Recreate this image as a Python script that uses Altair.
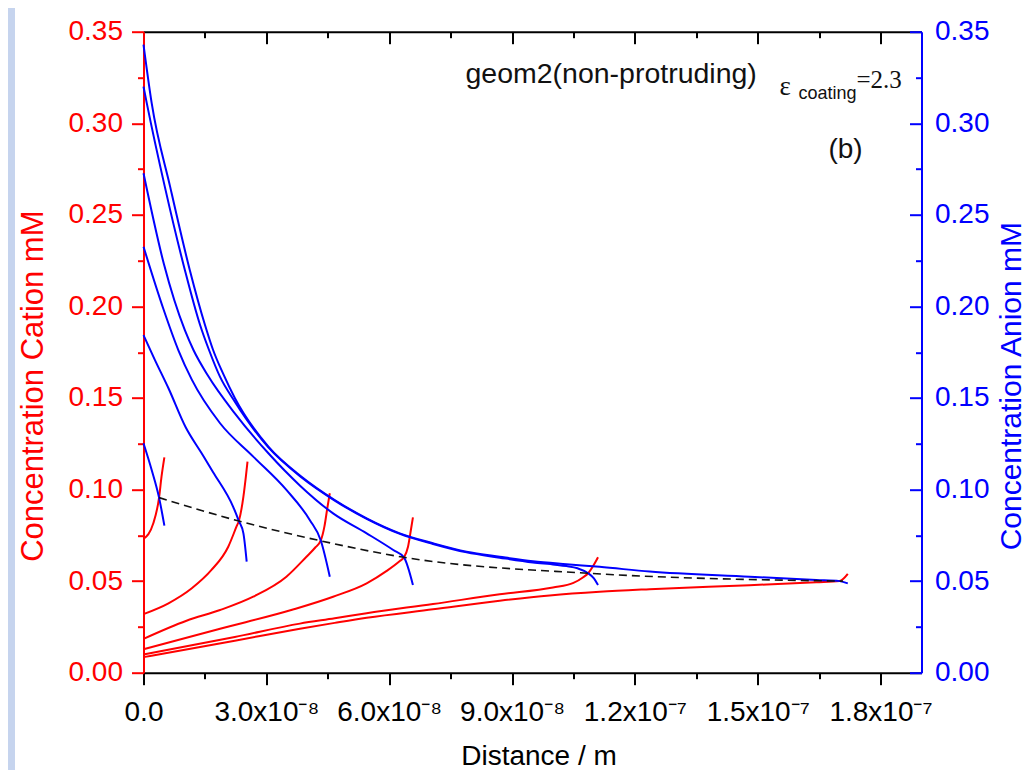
import altair as alt
import pandas as pd

# Distance in units of 1e-8 m, concentrations in mM
CAT1_X = [0.0, 0.24, 0.38, 0.44, 0.51]
CAT1_Y = [0.0730, 0.0816, 0.0956, 0.1070, 0.1176]
AN1_X = [0.0, 0.20, 0.38, 0.51]
AN1_Y = [0.1253, 0.1107, 0.0956, 0.0803]

CAT2_X = [0.0, 0.61, 1.18, 1.66, 2.07, 2.27, 2.33, 2.44, 2.50, 2.54]
CAT2_Y = [0.0320, 0.0379, 0.0461, 0.0561, 0.0688, 0.0797, 0.0830, 0.0961, 0.1070, 0.1152]
AN2_X = [0.0, 0.28, 0.61, 1.03, 1.42, 1.70, 2.19, 2.33, 2.44, 2.52]
AN2_Y = [0.1843, 0.1707, 0.1553, 0.1340, 0.1198, 0.1095, 0.0906, 0.0828, 0.0761, 0.0606]

CAT3_X = [0.0, 1.05, 1.87, 2.68, 3.49, 3.98, 4.20, 4.33, 4.42, 4.49, 4.55]
CAT3_Y = [0.0185, 0.0284, 0.0342, 0.0415, 0.0524, 0.0633, 0.0685, 0.0722, 0.0800, 0.0900, 0.0980]
AN3_X = [0.0, 0.48, 0.85, 1.18, 1.87, 2.68, 3.49, 4.06, 4.33, 4.55]
AN3_Y = [0.2326, 0.1990, 0.1762, 0.1600, 0.1362, 0.1180, 0.0998, 0.0834, 0.0722, 0.0524]

CAT4_X = [0.0, 1.87, 3.65, 4.63, 5.45, 5.94, 6.26, 6.36, 6.46, 6.53, 6.58]
CAT4_Y = [0.0128, 0.0240, 0.0345, 0.0415, 0.0488, 0.0556, 0.0610, 0.0630, 0.0688, 0.0779, 0.0848]
AN4_X = [0.0, 0.50, 1.01, 1.22, 1.58, 2.23, 3.05, 3.83, 4.63, 5.45, 6.10, 6.36, 6.58]
AN4_Y = [0.2727, 0.2230, 0.1870, 0.1762, 0.1620, 0.1416, 0.1198, 0.1020, 0.0870, 0.0761, 0.0670,
         0.0630, 0.0479]

CAT5_X = [0.0, 2.23, 3.82, 4.67, 5.45, 7.07, 8.70, 10.00, 10.50, 10.73, 10.86, 11.02, 11.10]
CAT5_Y = [0.0100, 0.0195, 0.0268, 0.0297, 0.0325, 0.0375, 0.0428, 0.0465, 0.0490, 0.0520, 0.0543,
          0.0597, 0.0630]
AN5_X = [0.0, 0.08, 0.52, 1.01, 1.38, 1.60, 1.87, 2.23, 3.05, 3.86, 4.67, 5.45, 6.26, 7.07, 7.89,
         8.70, 9.51, 10.05, 10.33, 10.60, 10.86, 11.00, 11.10]
AN5_Y = [0.3200, 0.3110, 0.2654, 0.2199, 0.1900, 0.1762, 0.1615, 0.1480, 0.1230, 0.1066, 0.0940,
         0.0840, 0.0758, 0.0703, 0.0657, 0.0628, 0.0602, 0.0590, 0.0582, 0.0570, 0.0543, 0.0515,
         0.0479]

CAT6_X = [0.0, 2.23, 3.82, 4.67, 5.45, 7.07, 8.70, 9.92, 11.14, 12.36, 14.80, 16.43, 17.00, 17.20]
CAT6_Y = [0.0085, 0.0175, 0.0240, 0.0272, 0.0300, 0.0346, 0.0393, 0.0422, 0.0442, 0.0456, 0.0478,
          0.0494, 0.0501, 0.0540]
AN6_X = [0.0, 0.20, 0.65, 1.13, 1.50, 1.70, 1.95, 2.23, 3.05, 3.86, 4.67, 5.45, 6.26, 7.07, 7.89,
         8.70, 9.51, 10.33, 11.14, 12.36, 14.80, 16.43, 17.00, 17.20]
AN6_Y = [0.3430, 0.3110, 0.2654, 0.2199, 0.1900, 0.1762, 0.1630, 0.1500, 0.1234, 0.1070, 0.0943,
         0.0843, 0.0761, 0.0707, 0.0661, 0.0633, 0.0608, 0.0592, 0.0578, 0.0552, 0.0524, 0.0506,
         0.0500, 0.0488]

DASH_X = [0.38, 2.33, 4.33, 6.36, 10.86, 17.08]
DASH_Y = [0.0956, 0.0828, 0.0720, 0.0630, 0.0543, 0.0500]

X_TICKS = [0, 3, 6, 9, 12, 15, 18]
X_TICK_LABELS = ["0.0", "3.0x10⁻⁸", "6.0x10⁻⁸", "9.0x10⁻⁸", "1.2x10⁻⁷", "1.5x10⁻⁷", "1.8x10⁻⁷"]
X_MINOR = [1.5, 4.5, 7.5, 10.5, 13.5, 16.5]
Y_TICKS = [0.0, 0.05, 0.10, 0.15, 0.20, 0.25, 0.30, 0.35]
Y_MINOR = [0.025, 0.075, 0.125, 0.175, 0.225, 0.275, 0.325]

SERIES = [
    ("cation", 1, CAT1_X, CAT1_Y), ("anion", 1, AN1_X, AN1_Y),
    ("cation", 2, CAT2_X, CAT2_Y), ("anion", 2, AN2_X, AN2_Y),
    ("cation", 3, CAT3_X, CAT3_Y), ("anion", 3, AN3_X, AN3_Y),
    ("cation", 4, CAT4_X, CAT4_Y), ("anion", 4, AN4_X, AN4_Y),
    ("cation", 5, CAT5_X, CAT5_Y), ("anion", 5, AN5_X, AN5_Y),
    ("cation", 6, CAT6_X, CAT6_Y), ("anion", 6, AN6_X, AN6_Y),
]

rows = []
for kind, k, xs_, ys_ in SERIES:
    for i, (xv, yv) in enumerate(zip(xs_, ys_)):
        rows.append({"x": xv, "y": yv, "kind": kind, "series": f"{kind}{k}", "order": i})
lines_df = pd.DataFrame(rows)
dash_df = pd.DataFrame({"x": DASH_X, "y": DASH_Y, "order": list(range(len(DASH_X)))})
one = pd.DataFrame({"a": [0]})

W, H = 778, 641
SANS = "Liberation Sans"
SERIF = "Liberation Serif"
RED = "#ff0000"
BLUE = "#0000ff"

xs = alt.Scale(domain=[0, 19], nice=False, zero=False)
ys = alt.Scale(domain=[0, 0.35], nice=False, zero=False)

label_expr = "[" + ",".join(f"'{s}'" for s in X_TICK_LABELS) + "][round(datum.value/3)]"

common = dict(grid=False, labelFlush=False, labelOverlap=False)

ax_bottom_major = alt.Axis(orient="bottom", values=X_TICKS, tickSize=12, tickWidth=2, tickColor="black",
                           domain=True, domainColor="black", domainWidth=2, labels=True,
                           labelExpr=label_expr, labelFont=SANS, labelFontSize=28, labelColor="black",
                           labelPadding=14, title="Distance / m", titleFont=SANS, titleFontSize=28,
                           titleFontWeight="normal", titleColor="black", titleX=395, titleY=84,
                           titleAlign="center", titleBaseline="middle", **common)
ax_bottom_minor = alt.Axis(orient="bottom", values=X_MINOR, tickSize=6, tickWidth=2, tickColor="black",
                           domain=False, labels=False, title=None, **common)
ax_top_frame = alt.Axis(orient="top", domain=True, domainColor="black", domainWidth=2, ticks=False,
                        tickSize=0, labels=False, title=None, **common)
ax_top_major = alt.Axis(orient="top", values=X_TICKS, offset=-12, tickSize=12, tickWidth=2,
                        tickColor="black", domain=False, labels=False, title=None, **common)
ax_top_minor = alt.Axis(orient="top", values=X_MINOR, offset=-6, tickSize=6, tickWidth=2,
                        tickColor="black", domain=False, labels=False, title=None, **common)

ax_left_major = alt.Axis(orient="left", values=Y_TICKS, tickSize=12, tickWidth=2, tickColor=RED,
                         domain=True, domainColor=RED, domainWidth=2, labels=True, format=".2f",
                         labelFont=SANS, labelFontSize=28, labelColor=RED, labelPadding=9,
                         title="Concentration Cation mM", titleFont=SANS, titleFontSize=31,
                         titleFontWeight="normal", titleColor=RED, titleAngle=270, titleX=-110,
                         titleY=354, titleAlign="center", titleBaseline="middle", **common)
ax_left_minor = alt.Axis(orient="left", values=Y_MINOR, tickSize=6, tickWidth=2, tickColor=RED,
                         domain=False, labels=False, title=None, **common)
ax_right_frame = alt.Axis(orient="right", values=Y_TICKS, ticks=False, tickSize=0, domain=True,
                          domainColor=BLUE, domainWidth=2, labels=True, format=".2f", labelFont=SANS,
                          labelFontSize=28, labelColor=BLUE, labelPadding=13,
                          title="Concentration Anion mM", titleFont=SANS, titleFontSize=30,
                          titleFontWeight="normal", titleColor=BLUE, titleAngle=270, titleX=90,
                          titleY=354, titleAlign="center", titleBaseline="middle", **common)
ax_right_major = alt.Axis(orient="right", values=Y_TICKS, offset=-12, tickSize=12, tickWidth=2,
                          tickColor=BLUE, domain=False, labels=False, title=None, **common)
ax_right_minor = alt.Axis(orient="right", values=Y_MINOR, offset=-6, tickSize=6, tickWidth=2,
                          tickColor=BLUE, domain=False, labels=False, title=None, **common)

lines = alt.Chart(lines_df).mark_line(interpolate="monotone", strokeWidth=2).encode(
    x=alt.X("x:Q", scale=xs, axis=ax_bottom_major),
    y=alt.Y("y:Q", scale=ys, axis=ax_left_major),
    color=alt.Color("kind:N", scale=alt.Scale(domain=["cation", "anion"], range=[RED, BLUE]), legend=None),
    detail="series:N",
    order="order:Q",
)

dashed = alt.Chart(dash_df).mark_line(interpolate="monotone", strokeWidth=1.6, strokeDash=[8, 5],
                                      color="#111111").encode(
    x=alt.X("x:Q", scale=xs, axis=ax_bottom_minor),
    y=alt.Y("y:Q", scale=ys, axis=ax_left_minor),
    order="order:Q",
)


def guide_layer(xa, ya):
    return alt.Chart(dash_df).mark_line(opacity=0).encode(
        x=alt.X("x:Q", scale=xs, axis=xa),
        y=alt.Y("y:Q", scale=ys, axis=ya),
    )


g1 = guide_layer(ax_top_frame, ax_right_frame)
g2 = guide_layer(ax_top_major, ax_right_major)
g3 = guide_layer(ax_top_minor, ax_right_minor)

strip = alt.Chart(one).mark_rect(color="#c6d4ee").encode(
    x=alt.value(-135.5), x2=alt.value(-128.5), y=alt.value(-23.7), y2=alt.value(740)
)

t_geom = alt.Chart(one).mark_text(text="geom2(non-protruding)", font=SANS, fontSize=28.5, align="left",
                                  baseline="alphabetic", color="#111111").encode(
    x=alt.value(322), y=alt.value(51))
t_eps = alt.Chart(one).mark_text(text="ε", font=SERIF, fontSize=27, align="left",
                                 baseline="alphabetic", color="#111111").encode(
    x=alt.value(636), y=alt.value(63))
t_coat = alt.Chart(one).mark_text(text="coating", font=SANS, fontSize=18, align="left",
                                  baseline="alphabetic", color="#111111").encode(
    x=alt.value(655), y=alt.value(67))
t_val = alt.Chart(one).mark_text(text="=2.3", font=SERIF, fontSize=25, align="left",
                                 baseline="alphabetic", color="#111111").encode(
    x=alt.value(713), y=alt.value(56))
t_b = alt.Chart(one).mark_text(text="(b)", font=SANS, fontSize=28, align="center",
                               baseline="middle", color="#111111").encode(
    x=alt.value(702), y=alt.value(118))

chart = alt.layer(strip, lines, dashed, g1, g2, g3, t_geom, t_eps, t_coat, t_val, t_b).resolve_axis(
    x="independent", y="independent"
).properties(
    width=W, height=H,
    autosize=alt.AutoSizeParams(type="none"),
    padding={"left": 135.5, "top": 23.7, "right": 104.3, "bottom": 97.3},
    background="white",
).configure_view(stroke=None)

chart.save("out.html", embed_options={"renderer": "svg", "actions": False})
